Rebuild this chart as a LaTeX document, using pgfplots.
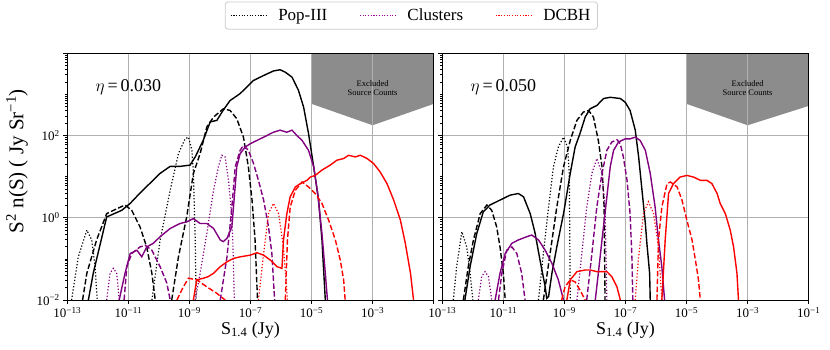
\documentclass[border=0pt]{standalone}
\usepackage{pgfplots}
\pgfplotsset{compat=1.18}
\usepackage{fontspec}
\setmainfont{Liberation Serif}
\definecolor{clpurple}{HTML}{800080}
\definecolor{exgray}{HTML}{8C8C8C}
\definecolor{gridgray}{HTML}{B0B0B0}
\definecolor{leggray}{HTML}{CCCCCC}
\pgfplotsset{
  sol/.style={line width=1.4pt, solid, forget plot},
  das/.style={line width=1.4pt, dash pattern=on 5.5pt off 2.4pt, forget plot},
  dot/.style={line width=1.2pt, dash pattern=on 1.2pt off 2pt, forget plot},
  panel/.style={
    scale only axis, width=366.4pt, height=246.7pt,
    xmin=-13, xmax=-1, ymin=-2, ymax=4,
    xtick={-13,-11,-9,-7,-5,-3,-1},
    ytick={-2,0,2,4},
    minor ytick={-1.699,-1.523,-1.398,-1.301,-1.222,-1.155,-1.097,-1.046,-1,
      -0.699,-0.523,-0.398,-0.301,-0.222,-0.155,-0.097,-0.046,
      0.301,0.477,0.602,0.699,0.778,0.845,0.903,0.954,1,
      1.301,1.477,1.602,1.699,1.778,1.845,1.903,1.954,
      2.301,2.477,2.602,2.699,2.778,2.845,2.903,2.954,3,
      3.301,3.477,3.602,3.699,3.778,3.845,3.903,3.954},
    grid=major, major grid style={gridgray, line width=0.7pt},
    tick pos=left, tick align=outside,
    major tick length=4pt, minor tick length=2pt,
    every tick/.style={black, line width=0.6pt},
    axis line style={line width=0.9pt},
    tick label style={font=\fontsize{13}{13}\selectfont},
    xlabel={S\textsubscript{1.4} (Jy)},
    xlabel style={font=\fontsize{18}{18}\selectfont, at={(axis description cs:0.5,-0.122)}, anchor=center},
    set layers,
  },
}
\begin{document}
\begin{tikzpicture}
% ---------------- left panel ----------------
\begin{axis}[panel, at={(67.3pt,50pt)}, anchor=south west,
  xticklabels={10\textsuperscript{−13},10\textsuperscript{−11},10\textsuperscript{−9},10\textsuperscript{−7},10\textsuperscript{−5},10\textsuperscript{−3},{}},
  yticklabels={10\textsuperscript{−2},10\textsuperscript{0},10\textsuperscript{2},{}},
  ylabel={S\textsuperscript{2} n(S) ( Jy Sr\textsuperscript{−1})},
  ylabel style={font=\fontsize{21}{21}\selectfont, at={(axis description cs:-0.137,0.563)}, anchor=center},
  legend style={at={(0.939,1.153)}, anchor=center, legend columns=3,
    draw=leggray, line width=0.8pt, rounded corners=3pt, fill=white,
    font=\fontsize{17}{17}\selectfont, inner xsep=5pt, inner ysep=5pt,
    /tikz/every odd column/.append style={column sep=9pt},
    /tikz/every even column/.append style={column sep=30pt}},
  legend image code/.code={\draw[#1] (0pt,0pt) -- (36pt,0pt);},
]
\addlegendimage{black, line width=1.1pt, dash pattern=on 1.1pt off 1.6pt}
\addlegendentry{Pop-III}
\addlegendimage{clpurple!80!magenta, line width=1.1pt, dash pattern=on 1.1pt off 1.6pt}
\addlegendentry{Clusters}
\addlegendimage{red, line width=1.1pt, dash pattern=on 1.1pt off 1.6pt}
\addlegendentry{DCBH}

\addplot[fill=exgray, draw=none, on layer=axis background, forget plot] coordinates {(-5,4) (-5,2.77) (-3,2.25) (-1,2.77) (-1,4)} -- cycle;
\node[font=\fontsize{8.5}{9.5}\selectfont, align=center] at (axis cs:-3,3.15) {Excluded\\Source Counts};
\node[font=\fontsize{18}{18}\selectfont] at (axis cs:-11.0,3.17) {$\eta$\,=\,0.030};

% Pop-III
\addplot[black, sol] coordinates {(-12.31,-2.00)(-12.15,-1.35)(-11.71,0.02)(-11.22,0.18)(-10.94,0.35)(-10.62,0.60)(-10.29,0.84)(-9.96,1.08)(-9.63,1.25)(-9.31,1.25)(-8.98,1.28)(-8.81,1.48)(-8.55,1.88)(-8.32,2.33)(-8.10,2.37)(-7.90,2.61)(-7.67,2.85)(-7.34,3.02)(-7.12,3.18)(-6.90,3.34)(-6.57,3.46)(-6.25,3.57)(-6.03,3.60)(-5.86,3.54)(-5.64,3.42)(-5.43,3.10)(-5.26,2.69)(-5.10,2.05)(-4.93,1.24)(-4.77,0.43)(-4.66,-0.54)(-4.55,-2.00)};
\addplot[black, das] coordinates {(-12.50,-2.00)(-12.36,-1.35)(-12.04,-0.54)(-11.71,0.10)(-11.49,0.18)(-11.11,0.31)(-10.89,0.18)(-10.62,-0.22)(-10.40,-0.71)(-10.23,-1.35)(-10.12,-2.00)};
\addplot[black, das] coordinates {(-9.58,-2.00)(-9.36,-0.95)(-9.09,0.02)(-8.87,1.08)(-8.65,1.56)(-8.43,2.21)(-8.21,2.45)(-7.89,2.65)(-7.67,2.61)(-7.45,2.41)(-7.23,1.96)(-7.07,1.24)(-6.95,0.43)(-6.85,-0.54)(-6.77,-2.00)};
\addplot[black, dot] coordinates {(-12.86,-2.00)(-12.64,-0.95)(-12.36,-0.30)(-12.20,-0.54)(-12.09,-1.19)(-12.02,-2.00)};
\addplot[black, dot] coordinates {(-10.23,-2.00)(-9.96,-0.54)(-9.63,0.67)(-9.36,1.56)(-9.14,1.92)(-9.03,1.96)(-8.92,1.64)(-8.87,1.08)(-8.81,-0.54)(-8.78,-2.00)};
% Clusters
\addplot[clpurple, sol] coordinates {(-11.30,-2.00)(-11.11,-1.35)(-10.94,-0.87)(-10.72,-0.79)(-10.56,-0.95)(-10.40,-0.71)(-10.18,-0.62)(-9.96,-0.46)(-9.63,-0.26)(-9.31,-0.14)(-9.09,-0.10)(-8.87,-0.02)(-8.65,-0.14)(-8.43,-0.14)(-8.21,-0.26)(-7.99,-0.54)(-7.89,-0.58)(-7.77,-0.50)(-7.61,-0.22)(-7.53,0.51)(-7.45,1.24)(-7.34,1.56)(-7.17,1.72)(-7.01,1.80)(-6.79,1.88)(-6.57,1.96)(-6.25,2.08)(-6.03,2.13)(-5.81,2.08)(-5.64,2.13)(-5.48,2.00)(-5.31,1.88)(-5.10,1.64)(-4.93,1.24)(-4.80,0.59)(-4.66,-0.38)(-4.55,-1.35)(-4.48,-2.00)};
\addplot[clpurple, das] coordinates {(-11.14,-2.00)(-11.05,-1.19)(-10.89,-0.87)(-10.62,-0.71)(-10.45,-0.67)(-10.23,-0.79)(-9.96,-1.19)(-9.74,-1.59)(-9.63,-2.00)};
\addplot[clpurple, das] coordinates {(-7.99,-2.00)(-7.77,-0.95)(-7.61,0.26)(-7.50,1.24)(-7.34,1.64)(-7.23,1.76)(-7.07,1.64)(-6.90,1.32)(-6.74,0.91)(-6.57,0.43)(-6.41,-0.22)(-6.30,-0.87)(-6.21,-2.00)};
\addplot[clpurple, dot] coordinates {(-11.71,-2.00)(-11.60,-1.35)(-11.49,-1.23)(-11.38,-1.35)(-11.30,-2.00)};
\addplot[clpurple, dot] coordinates {(-8.81,-2.00)(-8.65,-1.35)(-8.43,-0.38)(-8.21,0.67)(-8.05,1.24)(-7.94,1.52)(-7.83,1.48)(-7.72,0.91)(-7.64,0.26)(-7.58,-0.54)(-7.53,-2.00)};
% DCBH
\addplot[red, sol] coordinates {(-8.87,-2.00)(-8.76,-1.51)(-8.54,-1.47)(-8.38,-1.43)(-8.21,-1.35)(-7.99,-1.19)(-7.77,-1.07)(-7.56,-0.99)(-7.34,-0.95)(-7.01,-0.91)(-6.79,-0.85)(-6.57,-0.91)(-6.35,-1.03)(-6.13,-1.19)(-5.97,-1.23)(-5.92,-0.54)(-5.81,0.10)(-5.70,0.51)(-5.53,0.75)(-5.37,0.83)(-5.15,0.91)(-5.04,0.99)(-4.88,1.03)(-4.66,1.16)(-4.39,1.28)(-4.17,1.40)(-3.95,1.44)(-3.79,1.52)(-3.57,1.48)(-3.40,1.52)(-3.18,1.44)(-2.97,1.32)(-2.75,1.11)(-2.53,0.83)(-2.31,0.43)(-2.09,-0.06)(-1.93,-0.62)(-1.76,-1.35)(-1.66,-2.00)};
\addplot[red, das] coordinates {(-9.41,-2.00)(-9.20,-1.68)(-9.03,-1.47)(-8.76,-1.51)(-8.43,-1.68)(-8.10,-1.84)(-7.83,-2.00)};
\addplot[red, das] coordinates {(-5.86,-2.00)(-5.79,-0.54)(-5.70,0.26)(-5.53,0.67)(-5.31,0.87)(-5.10,0.75)(-4.88,0.59)(-4.66,0.35)(-4.44,-0.06)(-4.22,-0.54)(-4.06,-1.03)(-3.95,-1.51)(-3.90,-2.00)};
\addplot[red, dot] coordinates {(-6.74,-2.00)(-6.57,-0.87)(-6.41,0.10)(-6.25,0.35)(-6.08,0.10)(-5.92,-0.71)(-5.79,-2.00)};
\end{axis}

% ---------------- right panel ----------------
\begin{axis}[panel, at={(442.3pt,50pt)}, anchor=south west,
  xticklabels={10\textsuperscript{−13},10\textsuperscript{−11},10\textsuperscript{−9},10\textsuperscript{−7},10\textsuperscript{−5},10\textsuperscript{−3},10\textsuperscript{−1}},
  yticklabels={},
]
\addplot[fill=exgray, draw=none, on layer=axis background, forget plot] coordinates {(-5,4) (-5,2.77) (-3,2.25) (-1,2.72) (-1,4)} -- cycle;
\node[font=\fontsize{8.5}{9.5}\selectfont, align=center] at (axis cs:-3,3.15) {Excluded\\Source Counts};
\node[font=\fontsize{18}{18}\selectfont] at (axis cs:-11.0,3.17) {$\eta$\,=\,0.050};

% Pop-III
\addplot[black, sol] coordinates {(-12.26,-2.00)(-12.09,-1.19)(-11.87,-0.38)(-11.66,0.14)(-11.44,0.31)(-11.11,0.43)(-10.78,0.55)(-10.51,0.59)(-10.34,0.51)(-10.12,0.10)(-9.96,-0.38)(-9.80,-1.03)(-9.63,-1.68)(-9.58,-1.96)(-9.52,-1.92)(-9.41,-1.35)(-9.25,-0.71)(-9.03,0.10)(-8.81,1.08)(-8.65,1.72)(-8.49,2.05)(-8.32,2.45)(-8.16,2.65)(-7.94,2.73)(-7.72,2.90)(-7.50,2.93)(-7.17,2.90)(-7.01,2.81)(-6.85,2.61)(-6.68,2.13)(-6.57,1.48)(-6.46,0.67)(-6.35,-0.14)(-6.30,-0.62)(-6.21,-1.35)(-6.19,-2.00)};
\addplot[black, das] coordinates {(-12.31,-2.00)(-12.15,-1.19)(-11.98,-0.54)(-11.76,0.10)(-11.54,0.31)(-11.38,0.18)(-11.22,-0.22)(-11.11,-0.71)(-11.00,-1.35)(-10.94,-2.00)};
\addplot[black, das] coordinates {(-9.69,-2.00)(-9.47,-0.87)(-9.25,0.26)(-9.03,1.24)(-8.81,1.88)(-8.59,2.37)(-8.38,2.57)(-8.21,2.61)(-8.05,2.45)(-7.89,1.88)(-7.77,1.24)(-7.70,0.26)(-7.67,-2.00)};
\addplot[black, dot] coordinates {(-12.64,-2.00)(-12.53,-1.19)(-12.36,-0.34)(-12.20,-0.71)(-12.09,-1.35)(-12.00,-2.00)};
\addplot[black, dot] coordinates {(-9.85,-2.00)(-9.69,-0.87)(-9.52,0.26)(-9.36,1.24)(-9.20,1.72)(-9.03,1.96)(-8.90,1.72)(-8.84,1.08)(-8.81,-2.00)};
% Clusters
\addplot[clpurple, sol] coordinates {(-11.27,-2.00)(-11.11,-1.35)(-10.94,-0.87)(-10.72,-0.62)(-10.51,-0.54)(-10.23,-0.46)(-10.07,-0.42)(-9.85,-0.54)(-9.63,-0.79)(-9.41,-1.11)(-9.20,-1.51)(-9.03,-2.00)};
\addplot[clpurple, sol] coordinates {(-7.99,-2.00)(-7.89,-1.35)(-7.77,-0.54)(-7.61,0.51)(-7.50,1.24)(-7.39,1.64)(-7.23,1.84)(-7.01,1.92)(-6.85,1.92)(-6.68,1.96)(-6.52,1.88)(-6.35,1.64)(-6.19,1.08)(-6.03,0.26)(-5.92,-0.54)(-5.81,-1.19)(-5.72,-2.00)};
\addplot[clpurple, das] coordinates {(-11.16,-2.00)(-11.05,-1.35)(-10.89,-0.79)(-10.72,-0.71)(-10.56,-0.87)(-10.40,-1.35)(-10.29,-2.00)};
\addplot[clpurple, das] coordinates {(-8.27,-2.00)(-8.10,-0.87)(-7.94,0.26)(-7.77,1.08)(-7.61,1.64)(-7.45,1.84)(-7.28,1.90)(-7.17,1.80)(-7.07,1.48)(-6.95,0.91)(-6.85,0.10)(-6.79,-0.95)(-6.76,-2.00)};
\addplot[clpurple, dot] coordinates {(-11.82,-2.00)(-11.71,-1.43)(-11.60,-1.31)(-11.49,-1.43)(-11.38,-2.00)};
\addplot[clpurple, dot] coordinates {(-8.59,-2.00)(-8.43,-0.87)(-8.27,0.26)(-8.10,1.08)(-7.94,1.44)(-7.77,1.08)(-7.67,0.26)(-7.61,-2.00)};
% DCBH
\addplot[red, sol] coordinates {(-8.92,-2.00)(-8.81,-1.51)(-8.59,-1.31)(-8.32,-1.27)(-8.16,-1.27)(-7.94,-1.31)(-7.61,-1.31)(-7.45,-1.43)(-7.28,-1.68)(-7.17,-2.00)};
\addplot[red, sol] coordinates {(-5.81,-2.00)(-5.70,-0.54)(-5.59,0.59)(-5.43,0.83)(-5.21,0.99)(-4.99,1.03)(-4.77,0.99)(-4.55,0.91)(-4.33,0.91)(-4.17,0.83)(-4.00,0.59)(-3.90,0.35)(-3.73,0.10)(-3.57,-0.30)(-3.46,-0.71)(-3.35,-1.35)(-3.30,-2.00)};
\addplot[red, das] coordinates {(-9.09,-2.00)(-8.98,-1.68)(-8.81,-1.51)(-8.65,-1.56)(-8.49,-1.76)(-8.32,-2.00)};
\addplot[red, das] coordinates {(-5.97,-2.00)(-5.92,-0.54)(-5.81,0.26)(-5.64,0.83)(-5.53,0.87)(-5.31,0.75)(-5.15,0.43)(-4.99,-0.06)(-4.82,-0.54)(-4.71,-1.03)(-4.61,-1.51)(-4.55,-2.00)};
\addplot[red, dot] coordinates {(-6.68,-2.00)(-6.57,-0.95)(-6.41,0.10)(-6.25,0.39)(-6.08,0.10)(-5.92,-0.71)(-5.81,-2.00)};
\end{axis}
\pgfresetboundingbox
\path[use as bounding box] (0pt,0pt) rectangle (830pt,350pt);
\end{tikzpicture}
\end{document}
